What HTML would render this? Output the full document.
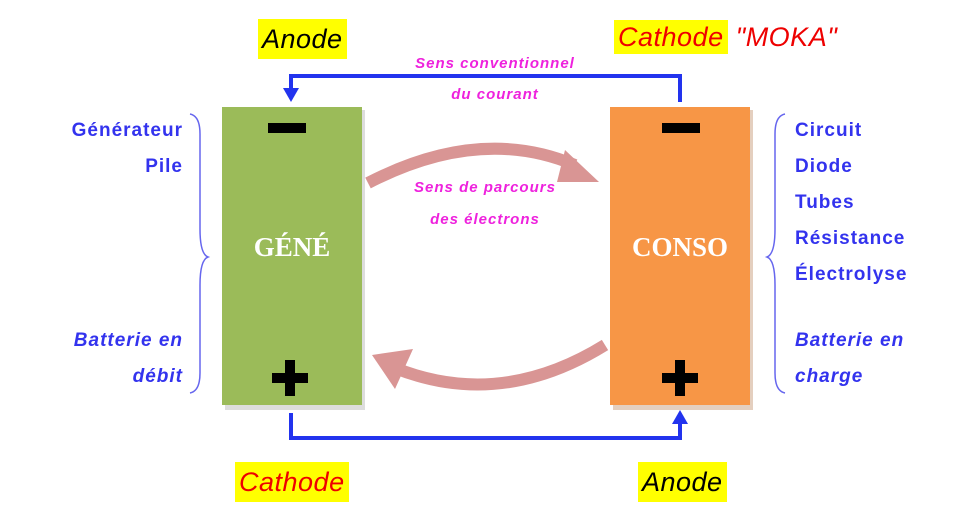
<!DOCTYPE html>
<html><head><meta charset="utf-8"><style>
body{margin:0;width:971px;height:507px;background:#fff;position:relative;overflow:hidden;font-family:"Comic Sans MS","Liberation Sans",sans-serif}
.a{position:absolute;white-space:nowrap}
.lbl{font-size:27px;font-style:italic;background:#ffff00;padding:2px 4px;line-height:36px;letter-spacing:0.5px}
.blue{color:#3333ee;font-size:19px;font-weight:bold;line-height:36px;letter-spacing:1px}
.mag{color:#ee22dd;font-size:15px;font-weight:bold;font-style:italic;letter-spacing:1px}
</style></head><body>
<svg class="a" style="left:0;top:0" width="971" height="507">
<rect x="225" y="110" width="140" height="300" fill="#bbb" opacity=".5"/>
<rect x="222" y="107" width="140" height="298" fill="#9bbb59"/>
<rect x="613" y="110" width="140" height="300" fill="#c9a080" opacity=".5"/>
<rect x="610" y="107" width="140" height="298" fill="#f79646"/>
<rect x="268" y="123" width="38" height="10" fill="#000"/>
<rect x="662" y="123" width="38" height="10" fill="#000"/>
<path d="M290 360v36M272 378h36" stroke="#000" stroke-width="10"/>
<path d="M680 360v36M662 378h36" stroke="#000" stroke-width="10"/>
<path d="M680 102V76H291v16" fill="none" stroke="#2233ee" stroke-width="4"/>
<path d="M283 88l8 14l8-14z" fill="#2233ee"/>
<path d="M291 413v25h389v-18" fill="none" stroke="#2233ee" stroke-width="4"/>
<path d="M672 424l8-14l8 14z" fill="#2233ee"/>
<path d="M368 183Q480 125 575 165" fill="none" stroke="#d99594" stroke-width="12"/>
<path d="M565 150l34 32l-42 0z" fill="#d99594"/>
<path d="M605 345Q500 410 395 368" fill="none" stroke="#d99594" stroke-width="12"/>
<path d="M372 355l41 -6l-18 40z" fill="#d99594"/>
<path d="M190 114q10 2 10 20v95q0 25 8 28q-8 3-8 28v88q0 18-10 20" fill="none" stroke="#6666ee" stroke-width="1.5"/>
<path d="M785 114q-10 2-10 20v95q0 25-8 28q8 3 8 28v88q0 18 10 20" fill="none" stroke="#6666ee" stroke-width="1.5"/>
</svg>
<div class="a" style="left:222px;top:232px;width:140px;text-align:center;color:#fff;font:bold 27px 'Liberation Serif',serif">GÉNÉ</div>
<div class="a" style="left:610px;top:232px;width:140px;text-align:center;color:#fff;font:bold 27px 'Liberation Serif',serif">CONSO</div>
<div class="a lbl" style="left:258px;top:19px;color:#000">Anode</div>
<div class="a" style="left:614px;top:19px;font-size:27px;font-style:italic;line-height:36px;letter-spacing:0.5px"><span style="background:#ff0;color:#e00;padding:2px 4px">Cathode</span> <span style="color:#e00">"MOKA"</span></div>
<div class="a lbl" style="left:235px;top:462px;color:#e00">Cathode</div>
<div class="a lbl" style="left:638px;top:462px;color:#000">Anode</div>
<div class="a mag" style="left:390px;top:48px;width:210px;text-align:center;line-height:31px">Sens conventionnel<br>du courant</div>
<div class="a mag" style="left:380px;top:172px;width:210px;text-align:center;line-height:32px">Sens de parcours<br>des électrons</div>
<div class="a blue" style="right:788px;top:113px;text-align:right">Générateur<br>Pile</div>
<div class="a blue" style="right:788px;top:323px;text-align:right;font-style:italic">Batterie en<br>débit</div>
<div class="a blue" style="left:795px;top:113px">Circuit<br>Diode<br>Tubes<br>Résistance<br>Électrolyse</div>
<div class="a blue" style="left:795px;top:323px;font-style:italic">Batterie en<br>charge</div>
</body></html>
